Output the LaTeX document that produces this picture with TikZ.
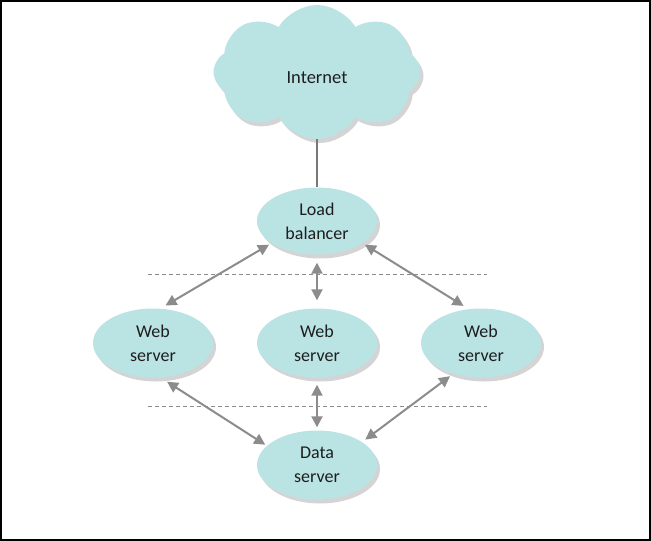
\documentclass[tikz,border=0pt]{standalone}
\usepackage{fontspec}
\setmainfont{Carlito}
\usetikzlibrary{shapes.symbols,shapes.geometric,arrows.meta,shadows}
\definecolor{nodefill}{RGB}{186,227,228}
\definecolor{arrgray}{RGB}{140,140,140}
\definecolor{linegray}{RGB}{120,120,120}
\definecolor{txt}{RGB}{30,30,30}
\tikzset{
  shade/.style={drop shadow={opacity=0.28,shadow xshift=3pt,shadow yshift=-4pt,fill=black!60}},
  srv/.style={ellipse,fill=nodefill,draw=none,minimum width=120pt,minimum height=69pt,inner sep=0pt,
              align=center,text=txt,font=\fontsize{18}{24}\selectfont,shade},
  arr/.style={draw=arrgray,line width=2pt,{Triangle[length=11pt,width=11pt]}-{Triangle[length=11pt,width=11pt]}},
  sep/.style={draw=arrgray,line width=1pt,dash pattern=on 4pt off 3pt},
}
\begin{document}
\begin{tikzpicture}[x=1pt,y=-1pt]
\useasboundingbox (0,0) rectangle (651,541);
\fill[white] (0,0) rectangle (651,541);
\draw[black,line width=1.6pt] (0.8,0.8) rectangle (650.2,540.2);
% dashed separators
\coordinate (d1a) at (148,274); \coordinate (d1b) at (487,274);
\coordinate (d2a) at (148,406); \coordinate (d2b) at (487,406);
\draw[sep] (d1a) -- (d1b);
\draw[sep] (d2a) -- (d2b);
% nodes
\node[cloud,cloud puffs=8,cloud puff arc=120,aspect=1.55,fill=nodefill,draw=none,
      minimum width=207pt,minimum height=134pt,inner sep=0pt,text=txt,shape border rotate=12,
      text height=23pt,text depth=0pt,
      font=\fontsize{18.5}{24}\selectfont,shade] (inet) at (317,72) {Internet};
\node[srv,minimum height=67pt] (lb) at (317,221) {Load\\balancer};
\node[srv] (ws1) at (153,343) {Web\\server};
\node[srv] (ws2) at (317,343) {Web\\server};
\node[srv] (ws3) at (481,343) {Web\\server};
\node[srv] (ds) at (317,465) {Data\\server};
% connectors
\draw[linegray,line width=1.3pt] (inet.south) -- (lb.north);
\draw[arr,shorten <=3pt,shorten >=6pt] (lb.206) -- (ws1.78);
\draw[arr,shorten <=8pt,shorten >=8pt] (lb.south) -- (ws2.north);
\draw[arr,shorten <=3pt,shorten >=6pt] (lb.334) -- (ws3.110);
\draw[arr,shorten <=8pt,shorten >=2pt] (ws1.282) -- (ds.159);
\draw[arr,shorten <=7pt,shorten >=3pt] (ws2.south) -- (ds.north);
\draw[arr,shorten <=4pt,shorten >=4pt] (ws3.228) -- (ds.27);
\end{tikzpicture}
\end{document}
